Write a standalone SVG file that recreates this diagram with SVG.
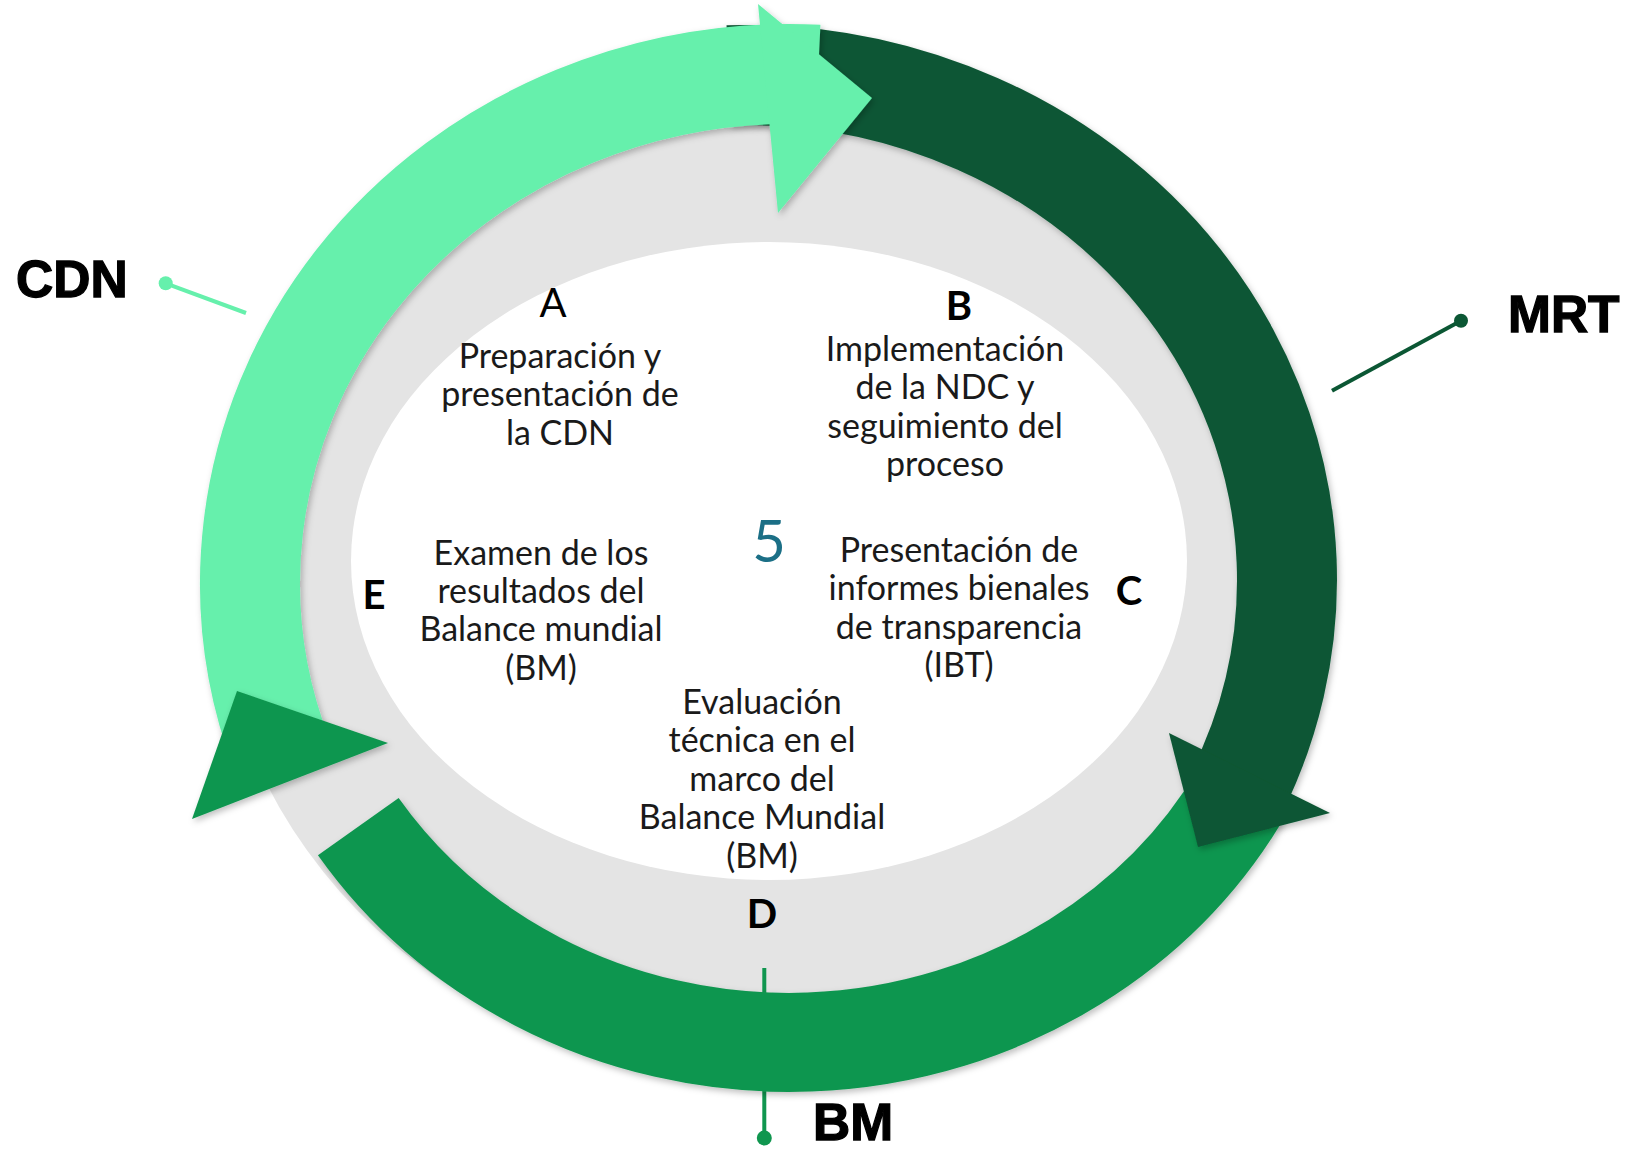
<svg xmlns="http://www.w3.org/2000/svg" width="1629" height="1150" viewBox="0 0 1629 1150">
<defs>
<style>
.body{font-family:Lato,"Open Sans","Liberation Sans",sans-serif;font-size:34px;fill:#1a1a1a;text-anchor:middle}
.let{font-family:Lato,"Liberation Sans",sans-serif;font-size:40px;fill:#000;text-anchor:middle;font-weight:700}
.lab{font-family:"Liberation Sans",Arial,sans-serif;font-size:51.5px;font-weight:700;fill:#000;stroke:#000;stroke-width:1.3px}
</style>
<filter id="sh" filterUnits="userSpaceOnUse" x="0" y="0" width="1629" height="1150">
<feDropShadow dx="2" dy="3" stdDeviation="3" flood-color="#000" flood-opacity="0.25"/>
</filter>
</defs>
<rect width="1629" height="1150" fill="#fff"/>
<g id="background">
<ellipse cx="769" cy="565" rx="555" ry="515" fill="#e4e4e4"/>
<ellipse cx="769" cy="561" rx="418" ry="319" fill="#fff"/>
</g>
<g id="connectors">
<line x1="165.7" y1="283.3" x2="246" y2="313" stroke="#66F0AC" stroke-width="4"/>
<circle cx="165.7" cy="283.3" r="7" fill="#66F0AC"/>
<line x1="1461" y1="320.7" x2="1332" y2="390.7" stroke="#0B5734" stroke-width="4"/>
<circle cx="1461" cy="320.7" r="7" fill="#0B5734"/>
<line x1="764.3" y1="968" x2="764.3" y2="1138" stroke="#10964F" stroke-width="4"/>
<circle cx="764.3" cy="1138" r="7.5" fill="#10964F"/>
</g>
<g id="bm-arrow" filter="url(#sh)">
<path d="M 1240.7 794.4 A 516.5 481.5 0 0 1 358.3 826.7" fill="none" stroke="#10964F" stroke-width="99"/>
</g>
<g id="mrt-arrow" filter="url(#sh)">
<path d="M 728 75.2 A 542 505 0 0 1 1236.2 793.4" fill="none" stroke="#0B5734" stroke-width="100"/>
<polygon points="1169,733 1330,813 1198,847" fill="#0B5734"/>
</g>
<g id="cdn-arrow" filter="url(#sh)">
<path d="M 282.6 757.1 A 540 509 0 0 1 818 74.7" fill="none" stroke="#66F0AC" stroke-width="100"/>
<polygon points="758,4 872,98 778,213" fill="#66F0AC"/>
</g>
<g id="bm-head" filter="url(#sh)">
<polygon points="237,691 388,743 192,819" fill="#10964F"/>
</g>
<g id="label-cdn"><text class="lab" x="16" y="297">CDN</text></g>
<g id="label-mrt"><text class="lab" x="1508" y="332">MRT</text></g>
<g id="label-bm"><text class="lab" x="813" y="1140">BM</text></g>
<g id="center"><text x="769" y="562" font-family="Lato,'Liberation Sans',sans-serif" font-size="58" fill="#1B6F86" text-anchor="middle">5</text></g>
<g id="node-a">
<text class="let" x="553" y="317" style="font-weight:400">A</text>
<text class="body" x="560" y="368">Preparación y</text>
<text class="body" x="560" y="406.4">presentación de</text>
<text class="body" x="560" y="444.8">la CDN</text>
</g>
<g id="node-b">
<text class="let" x="959" y="320">B</text>
<text class="body" x="945" y="361">Implementación</text>
<text class="body" x="945" y="399.4">de la NDC y</text>
<text class="body" x="945" y="437.8">seguimiento del</text>
<text class="body" x="945" y="476.2">proceso</text>
</g>
<g id="node-c">
<text class="let" x="1129" y="605">C</text>
<text class="body" x="959" y="562">Presentación de</text>
<text class="body" x="959" y="600.4">informes bienales</text>
<text class="body" x="959" y="638.8">de transparencia</text>
<text class="body" x="959" y="677.2">(IBT)</text>
</g>
<g id="node-d">
<text class="let" x="762" y="928">D</text>
<text class="body" x="762" y="714">Evaluación</text>
<text class="body" x="762" y="752.4">técnica en el</text>
<text class="body" x="762" y="790.8">marco del</text>
<text class="body" x="762" y="829.2">Balance Mundial</text>
<text class="body" x="762" y="867.6">(BM)</text>
</g>
<g id="node-e">
<text class="let" x="374" y="609">E</text>
<text class="body" x="541" y="564.5">Examen de los</text>
<text class="body" x="541" y="603">resultados del</text>
<text class="body" x="541" y="641.4">Balance mundial</text>
<text class="body" x="541" y="679.8">(BM)</text>
</g>
</svg>
